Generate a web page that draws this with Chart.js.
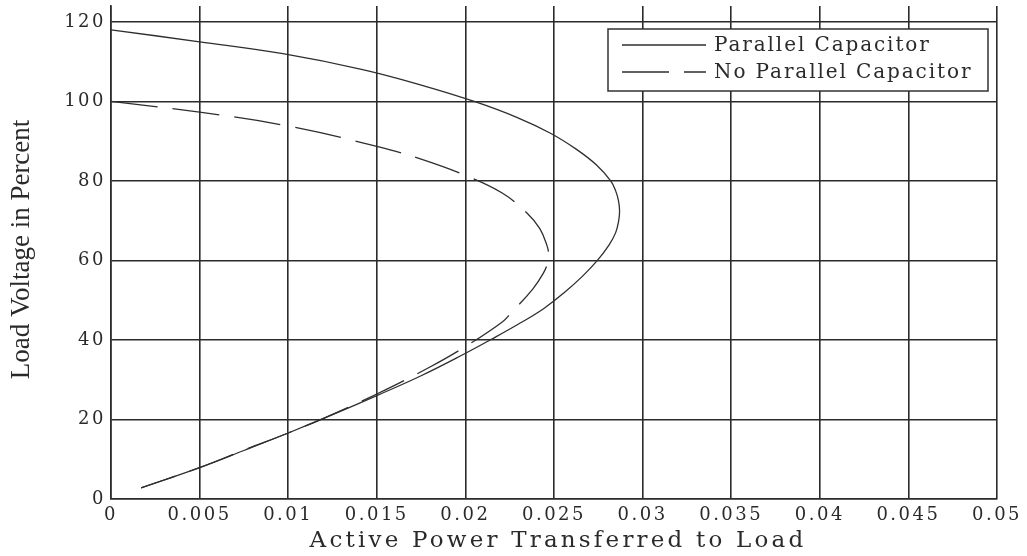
<!DOCTYPE html>
<html>
<head>
<meta charset="utf-8">
<script src="https://cdn.jsdelivr.net/npm/chart.js@4/dist/chart.umd.min.js"></script>
<style>
  html, body { margin: 0; padding: 0; background: #fff; }
  #wrap { width: 1027px; height: 556px; }
</style>
</head>
<body>
<div id="wrap"><canvas id="graph"></canvas></div>
<script>
// values (active power, load voltage %)
var capP = [0, 0.005, 0.0097, 0.0142, 0.0176, 0.0205, 0.0229, 0.0248, 0.02625, 0.0274, 0.0282, 0.02848, 0.02864, 0.0287, 0.02865, 0.02848, 0.02812, 0.02745, 0.0266, 0.0256, 0.02445, 0.023, 0.0214, 0.0199, 0.0175, 0.015, 0.0125, 0.01, 0.0075, 0.005, 0.0017];
var capV = [118, 115, 112, 108, 104, 100, 96, 92, 88, 84, 80, 77.5, 75, 72.5, 70, 67, 64, 60, 56, 52, 48, 44, 40, 36.4, 31, 26, 21.2, 16.6, 12.2, 7.9, 2.8];
var noCapP = [0, 0.005, 0.01, 0.015, 0.0175, 0.02, 0.0221, 0.0235, 0.0242, 0.0246, 0.0247, 0.02465, 0.0244, 0.0238, 0.0226, 0.0221, 0.0202, 0.018, 0.015, 0.012, 0.01, 0.0075, 0.005, 0.0017];
var noCapV = [100, 97.3, 93.8, 88.7, 85.5, 81.4, 76.9, 71.8, 68, 63.8, 61.5, 59.5, 56.8, 52.8, 46.9, 44.6, 38.9, 33.2, 26.4, 20.3, 16.6, 12.3, 7.9, 2.8];
var seriesNames = ['Parallel Capacitor', 'No Parallel Capacitor'];
var xTicks = [0, 0.005, 0.01, 0.015, 0.02, 0.025, 0.03, 0.035, 0.04, 0.045, 0.05];
var yTicks = [0, 20, 40, 60, 80, 100, 120];
var xTitle = 'Active Power Transferred to Load';
var yTitle = 'Load Voltage in Percent';

var lineColor = '#2e2e2e';
var gridColor = '#2b2b2b';
var textColor = '#2a2a2a';

function toPoints(xs, ys){
    var pts = [];
    for (var i = 0; i < xs.length; i++) pts.push({x: xs[i], y: ys[i]});
    return pts;
}

// wide tick lettering like the printed figure
var spacing = {
    id: 'spacing',
    beforeDraw: function(chart){ chart.ctx.letterSpacing = '2.5px'; }
};

// axis titles + boxed legend inside the plot, top right
var boxLegend = {
    id: 'boxLegend',
    afterDraw: function(chart){
        var ctx = chart.ctx;
        var area = chart.chartArea;
        ctx.save();
        ctx.fillStyle = textColor;
        ctx.textAlign = 'center';
        ctx.textBaseline = 'middle';

        ctx.letterSpacing = '3.2px';
        ctx.font = '23px "DejaVu Serif"';
        ctx.fillText(xTitle, (area.left + area.right) / 2 + 4, 541);

        ctx.letterSpacing = '0px';
        ctx.save();
        ctx.translate(22, (area.top + area.bottom) / 2 - 3);
        ctx.rotate(-Math.PI / 2);
        ctx.font = '27px "Liberation Serif"';
        ctx.fillText(yTitle, 0, 0);
        ctx.restore();

        var left = area.right - 389, top = area.top + 23, w = 380, h = 62;
        ctx.fillStyle = '#fff';
        ctx.fillRect(left, top, w, h);
        ctx.strokeStyle = '#333';
        ctx.lineWidth = 1.5;
        ctx.strokeRect(left, top, w, h);
        chart.data.datasets.forEach(function(ds, i){
            var y = top + 16 + i * 27;
            ctx.beginPath();
            ctx.setLineDash(ds.borderDash || []);
            ctx.strokeStyle = ds.borderColor;
            ctx.lineWidth = ds.borderWidth;
            ctx.moveTo(left + 14, y);
            ctx.lineTo(left + 98, y);
            ctx.stroke();
            ctx.setLineDash([]);
            ctx.fillStyle = textColor;
            ctx.letterSpacing = '1.9px';
            ctx.font = '20px "DejaVu Serif"';
            ctx.textAlign = 'left';
            ctx.fillText(ds.label, left + 106, y + 1);
        });
        ctx.restore();
    }
};

var ctx = document.getElementById('graph').getContext('2d');
var chart = new Chart(ctx, {
    type: 'scatter',
    data: {
        datasets: [{
            label: seriesNames[0],
            data: toPoints(capP, capV),
            showLine: true,
            borderColor: lineColor,
            borderWidth: 1.3,
            pointRadius: 0,
            tension: 0.4
        }, {
            label: seriesNames[1],
            data: toPoints(noCapP, noCapV),
            showLine: true,
            borderColor: lineColor,
            borderWidth: 1.3,
            borderDash: [47, 15],
            pointRadius: 0,
            tension: 0.4
        }]
    },
    options: {
        responsive: true,
        maintainAspectRatio: false,
        animation: false,
        layout: { padding: { top: 6, right: 30, left: 0, bottom: 0 } },
        plugins: {
            legend: { display: false },
            tooltip: { enabled: false }
        },
        scales: {
            x: {
                type: 'linear',
                min: 0,
                max: 0.05,
                afterBuildTicks: function(scale){
                    scale.ticks = xTicks.map(function(v){ return {value: v}; });
                },
                afterFit: function(scale){
                    scale.height = 57;
                    scale.paddingLeft = 0;
                    scale.paddingRight = 0;
                },
                grid: { color: gridColor, lineWidth: 1.6, drawTicks: false },
                border: { color: gridColor, width: 1.6 },
                ticks: {
                    color: textColor,
                    padding: 6,
                    maxRotation: 0,
                    autoSkip: false,
                    font: { family: 'DejaVu Serif', size: 18 },
                    callback: function(v){ return String(v); }
                }
            },
            y: {
                type: 'linear',
                min: 0,
                max: 124,
                afterBuildTicks: function(scale){
                    scale.ticks = yTicks.map(function(v){ return {value: v}; });
                },
                afterFit: function(scale){
                    scale.width = 111;
                    scale.paddingTop = 0;
                    scale.paddingBottom = 0;
                },
                grid: { color: gridColor, lineWidth: 1.6, drawTicks: false },
                border: { color: gridColor, width: 1.6 },
                ticks: {
                    color: textColor,
                    padding: 5,
                    autoSkip: false,
                    font: { family: 'DejaVu Serif', size: 18 }
                }
            }
        }
    },
    plugins: [spacing, boxLegend]
});
</script>
</body>
</html>
